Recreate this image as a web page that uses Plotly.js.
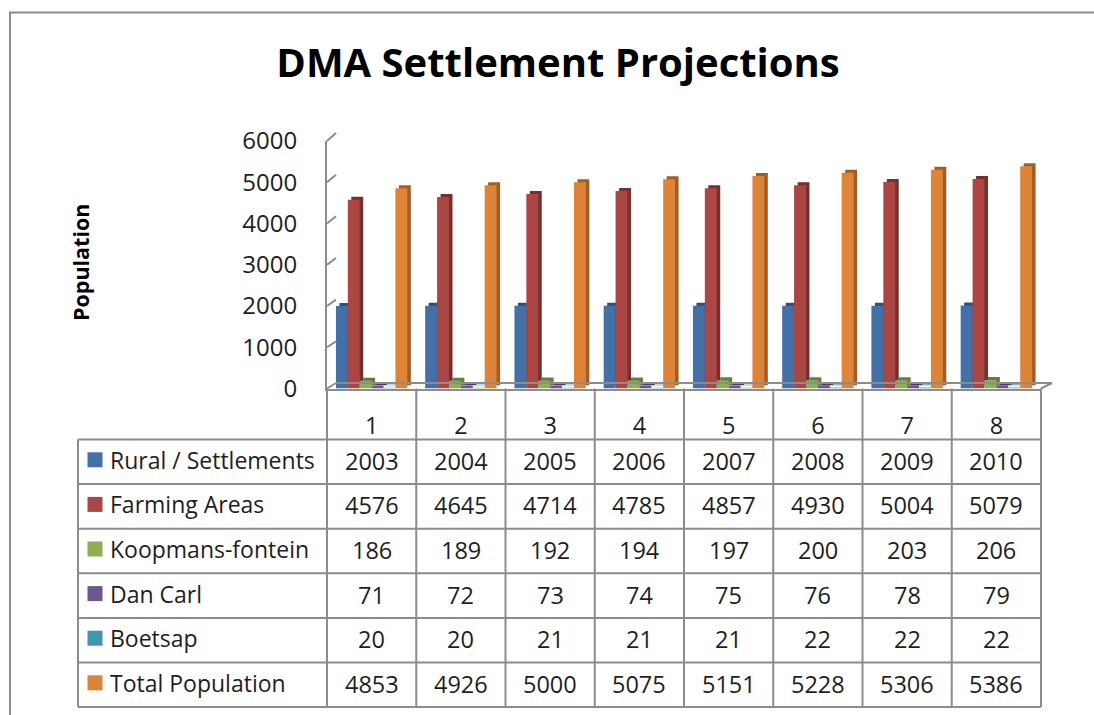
<!DOCTYPE html>
<html>
<head>
<meta charset="utf-8">
<script src="https://cdn.plot.ly/plotly-3.0.1.min.js"></script>
<style>html,body{margin:0;padding:0;background:#fff;}#chart{width:1094px;height:715px;}</style>
</head>
<body>
<div id="chart"></div>
<script>
// ---- data ----
const categories = ['1','2','3','4','5','6','7','8'];
const seriesNames = ['Rural / Settlements','Farming Areas','Koopmans-fontein','Dan Carl','Boetsap','Total Population'];
const rural    = [2003,2004,2005,2006,2007,2008,2009,2010];
const farming  = [4576,4645,4714,4785,4857,4930,5004,5079];
const koopmans = [186,189,192,194,197,200,203,206];
const danCarl  = [71,72,73,74,75,76,78,79];
const boetsap  = [20,20,21,21,21,22,22,22];
const total    = [4853,4926,5000,5075,5151,5228,5306,5386];
const yTicks   = [0,1000,2000,3000,4000,5000,6000];

// ---- styles ----
const seriesValues = [rural, farming, koopmans, danCarl, boetsap, total];
const frontColors = ['#4470A8','#AA4644','#8EAE52','#6F568F','#3F97AE','#DE8439'];
const sideColors  = ['#2E4F7A','#782E2D','#62803A','#4C3B66','#2A6E80','#A35C24'];
const W = 1094, H = 715;
const px = v => v / W;
const py = v => 1 - v / H;
const FONT = '"Open Sans", "Noto Sans", sans-serif';
const GRID = '#8c8c8c';
const TXT = '#1e1e1e';

// geometry (pixels)
const front = {x0: 327, x1: 1041, y0: 388.5, y1: 141};
const back  = {x0: 336, x1: 1052, y0: 383, y1: 133};
const depth = {dx: 3.5, dy: 3};
const table = {x0: 78, y0: 439.5, rowH: 44.6};

const traces = [];
// side/top faces (drawn first, shifted up-right)
seriesValues.forEach((vals, i) => {
  traces.push({type:'bar', x: categories, y: vals, name: seriesNames[i],
    marker:{color: sideColors[i]}, xaxis:'x2', yaxis:'y2', showlegend:false, hoverinfo:'skip'});
});
// front faces
seriesValues.forEach((vals, i) => {
  traces.push({type:'bar', x: categories, y: vals, name: seriesNames[i],
    marker:{color: frontColors[i]}, xaxis:'x3', yaxis:'y3', showlegend:false});
});

const shapes = [];
const annotations = [];
const line = (x0, y0, x1, y1) => ({type:'line', xref:'paper', yref:'paper',
  x0: px(x0), y0: py(y0), x1: px(x1), y1: py(y1), line:{color: GRID, width: 2}});

// decorative 3D frame lines
yTicks.forEach(v => {
  const fy = front.y0 + (front.y1 - front.y0) * v / 6000;
  const by = back.y0 + (back.y1 - back.y0) * v / 6000;
  shapes.push(line(front.x0, fy, back.x0, by));
});
shapes.push(line(back.x0, back.y0, back.x1, back.y0));
shapes.push(line(front.x1, front.y0, back.x1, back.y0));

// data table grid
const colW = (front.x1 - front.x0) / categories.length;
const nRows = seriesNames.length;
const tableBottom = table.y0 + table.rowH * nRows;
for (let i = 0; i <= categories.length; i++) {
  const xx = front.x0 + colW * i;
  shapes.push(line(xx, front.y0, xx, tableBottom));
}
shapes.push(line(table.x0, table.y0, table.x0, tableBottom));
for (let r = 0; r <= nRows; r++) {
  const yy = table.y0 + table.rowH * r;
  shapes.push(line(table.x0, yy, front.x1, yy));
}
// table text
seriesNames.forEach((name, r) => {
  const cy = table.y0 + table.rowH * (r + 0.5) - 2;
  shapes.push({type:'rect', xref:'paper', yref:'paper', x0: px(87.5), x1: px(102.5),
    y0: py(cy + 7.5), y1: py(cy - 7.5), fillcolor: frontColors[r], line:{width:0}});
  annotations.push({text: name, xref:'paper', yref:'paper', x: px(108), y: py(cy),
    xanchor:'left', yanchor:'middle', showarrow:false, font:{family: FONT, size: 23, color: TXT}});
  seriesValues[r].forEach((v, j) => {
    annotations.push({text: String(v), xref:'paper', yref:'paper',
      x: px(front.x0 + colW * (j + 0.5)), y: py(cy + 1),
      xanchor:'center', yanchor:'middle', showarrow:false, font:{family: FONT, size: 23.5, color: TXT}});
  });
});

// y-axis title
annotations.push({text:'<b>Population</b>', xref:'paper', yref:'paper', x: px(80), y: py(263),
  textangle:-90, showarrow:false, xanchor:'center', yanchor:'middle',
  font:{family: FONT, size: 21.5, color:'#000'}});

// outer chart border
shapes.push({type:'rect', xref:'paper', yref:'paper', x0: px(10), y0: -0.02, x1: 1.02, y1: py(12.5),
  line:{color:'#8a8a8a', width: 2}, fillcolor:'rgba(0,0,0,0)', layer:'below'});

const hidden = {showgrid:false, zeroline:false, showticklabels:false, showline:false, ticks:''};
const layout = {
  width: W, height: H,
  margin:{l:0, r:0, t:0, b:0},
  paper_bgcolor:'#ffffff', plot_bgcolor:'rgba(0,0,0,0)',
  barmode:'group', bargap: 0.2, bargroupgap: 0,
  showlegend:false,
  title:{text:'<b>DMA Settlement Projections</b>', x: px(558), xanchor:'center',
    y: py(63), yanchor:'middle', xref:'container', yref:'container',
    font:{family: FONT, size: 40, color:'#000'}},
  font:{family: FONT, color: TXT},
  // back wall
  xaxis: Object.assign({domain:[px(back.x0), px(back.x1)], type:'category', anchor:'y'}, hidden),
  yaxis: {domain:[py(back.y0), py(back.y1)], range:[0,6000], tickvals: yTicks, anchor:'x',
    showgrid:true, gridcolor: GRID, gridwidth: 2, zeroline:false, showticklabels:false,
    showline:true, linecolor: GRID, linewidth: 2, ticks:''},
  // depth faces
  xaxis2: Object.assign({domain:[px(front.x0 + depth.dx), px(front.x1 + depth.dx)], type:'category', anchor:'y2'}, hidden),
  yaxis2: Object.assign({domain:[py(front.y0 - depth.dy), py(front.y1 - depth.dy)], range:[0,6000], anchor:'x2'}, hidden),
  // front faces + axis labels
  xaxis3: {domain:[px(front.x0), px(front.x1)], type:'category', anchor:'y3',
    showgrid:false, zeroline:false, showline:true, linecolor: GRID, linewidth: 2, ticks:'',
    tickfont:{family: FONT, size: 23.5, color: TXT}, ticklabelstandoff: 15},
  yaxis3: {domain:[py(front.y0), py(front.y1)], range:[0,6000], tickvals: yTicks, anchor:'x3',
    showgrid:false, zeroline:false, showline:true, linecolor: GRID, linewidth: 2, ticks:'',
    tickfont:{family: FONT, size: 24, color: TXT}, ticklabelstandoff: 23},
  annotations: annotations,
  shapes: shapes
};
Plotly.newPlot('chart', traces, layout, {displayModeBar:false, staticPlot:true});
</script>
</body>
</html>
